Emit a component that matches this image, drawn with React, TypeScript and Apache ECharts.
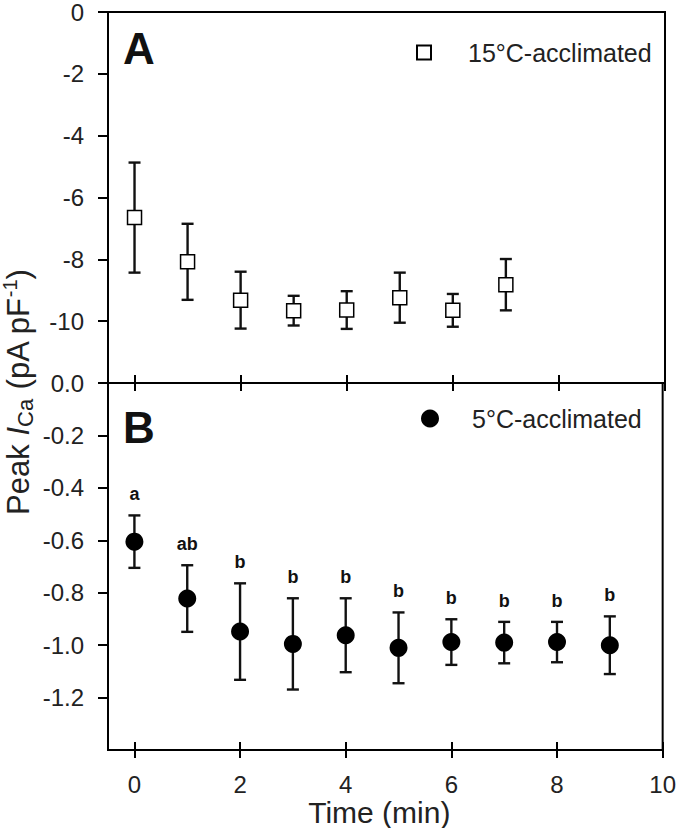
import React, { useEffect, useRef } from 'react';
import * as echarts from 'echarts';

const FONT = '"Liberation Sans", Arial, sans-serif';
const INK = '#111';

// Panel A: 15°C-acclimated
const timeA = [0, 1, 2, 3, 4, 5, 6, 7];
const meanA = [-6.65, -8.08, -9.32, -9.66, -9.64, -9.24, -9.65, -8.82];
const errA = [1.78, 1.23, 0.92, 0.48, 0.61, 0.81, 0.53, 0.83];

// Panel B: 5°C-acclimated
const timeB = [0, 1, 2, 3, 4, 5, 6, 7, 8, 9];
const meanB = [-0.605, -0.822, -0.948, -0.995, -0.962, -1.01, -0.988, -0.99, -0.988, -1.0];
const errB = [0.1, 0.127, 0.184, 0.174, 0.141, 0.135, 0.087, 0.079, 0.077, 0.11];
const lettersB = ['a', 'ab', 'b', 'b', 'b', 'b', 'b', 'b', 'b', 'b'];

const xTicks = [0, 2, 4, 6, 8, 10];
const yTicksA = [0, -2, -4, -6, -8, -10];
const yTicksB = [0, -0.2, -0.4, -0.6, -0.8, -1.0, -1.2];

export default function App() {
  const ref = useRef<HTMLDivElement>(null);
  useEffect(() => {
    const chart = echarts.init(ref.current!, null, { renderer: 'svg' });

    const errRender = (letters: string[] | null) => (params: any, api: any) => {
      const x = api.value(0);
      const lo = api.value(1);
      const hi = api.value(2);
      const pLo = api.coord([x, lo]);
      const pHi = api.coord([x, hi]);
      const cap = 6;
      const ls = { stroke: INK, lineWidth: 2.4 };
      const children: any[] = [
        { type: 'line', shape: { x1: pLo[0], y1: pLo[1], x2: pHi[0], y2: pHi[1] }, style: ls },
        { type: 'line', shape: { x1: pLo[0] - cap, y1: pLo[1], x2: pLo[0] + cap, y2: pLo[1] }, style: ls },
        { type: 'line', shape: { x1: pHi[0] - cap, y1: pHi[1], x2: pHi[0] + cap, y2: pHi[1] }, style: ls },
      ];
      if (letters) {
        children.push({
          type: 'text',
          x: pHi[0],
          y: pHi[1] - 21,
          style: {
            text: letters[params.dataIndex],
            align: 'center',
            verticalAlign: 'middle',
            fontSize: 18,
            fontWeight: 'bold',
            fontFamily: FONT,
            fill: INK,
          },
        });
      }
      return { type: 'group', children };
    };

    const tickStyle = { color: '#000', width: 2 };
    const lineStyle = { color: '#000', width: 2 };
    const labelStyle = { fontSize: 24, fontFamily: FONT, color: '#222' };

    const option: any = {
      animation: false,
      backgroundColor: '#fff',
      grid: [
        { left: 108, top: 11, right: 14, height: 372, show: true, borderColor: '#000', borderWidth: 2, backgroundColor: 'transparent' },
        { left: 108, top: 383, right: 14, height: 371, show: true, borderColor: '#000', borderWidth: 2, backgroundColor: 'transparent' },
      ],
      xAxis: [
        {
          type: 'value', gridIndex: 0, position: 'bottom', min: -0.5, max: 10,
          axisLine: { show: true, onZero: false, lineStyle }, splitLine: { show: false },
          axisTick: { show: true, inside: true, length: 8, customValues: xTicks, lineStyle: tickStyle },
          axisLabel: { show: false },
        },
        {
          type: 'value', gridIndex: 0, position: 'bottom', min: -0.5, max: 10,
          axisLine: { show: false, onZero: false }, splitLine: { show: false },
          axisTick: { show: true, inside: false, length: 8, customValues: xTicks, lineStyle: tickStyle },
          axisLabel: { show: false },
        },
        {
          type: 'value', gridIndex: 1, position: 'bottom', min: -0.5, max: 10,
          axisLine: { show: true, onZero: false, lineStyle }, splitLine: { show: false },
          axisTick: { show: true, inside: true, length: 8, customValues: xTicks, lineStyle: tickStyle },
          axisLabel: { show: true, customValues: xTicks, margin: 22, ...labelStyle },
          name: 'Time (min)', nameLocation: 'middle', nameGap: 37,
          nameTextStyle: { fontSize: 30, fontFamily: FONT, color: '#222', padding: [0, 12, 0, 0] },
        },
        {
          type: 'value', gridIndex: 1, position: 'bottom', min: -0.5, max: 10,
          axisLine: { show: false, onZero: false }, splitLine: { show: false },
          axisTick: { show: true, inside: false, length: 8, customValues: xTicks, lineStyle: tickStyle },
          axisLabel: { show: false },
        },
      ],
      yAxis: [
        {
          type: 'value', gridIndex: 0, position: 'left', min: -12, max: 0, interval: 2,
          axisLine: { show: true, onZero: false, lineStyle }, splitLine: { show: false },
          axisTick: { show: true, inside: false, length: 10, customValues: yTicksA, lineStyle: tickStyle },
          axisLabel: { show: true, customValues: yTicksA, margin: 24, ...labelStyle, formatter: (v: number) => String(v) },
        },
        {
          type: 'value', gridIndex: 1, position: 'left', min: -1.4, max: 0, interval: 0.2,
          axisLine: { show: true, onZero: false, lineStyle }, splitLine: { show: false },
          axisTick: { show: true, inside: false, length: 10, customValues: yTicksB, lineStyle: tickStyle },
          axisLabel: { show: true, customValues: yTicksB, margin: 24, ...labelStyle, formatter: (v: number) => v.toFixed(1) },
        },
      ],
      legend: [
        {
          data: ['15°C-acclimated'], left: 416, top: 40, padding: 0, itemWidth: 14, itemHeight: 14,
          selectedMode: false,
          textStyle: { fontSize: 25, fontFamily: FONT, color: '#222', padding: [0, 0, 0, 32] },
        },
        {
          data: ['5°C-acclimated'], left: 421, top: 406, padding: 0, itemWidth: 18, itemHeight: 18,
          selectedMode: false,
          textStyle: { fontSize: 25, fontFamily: FONT, color: '#222', padding: [0, 0, 0, 28] },
        },
      ],
      graphic: [
        { type: 'text', x: 123, y: 48, style: { text: 'A', fontSize: 44, fontWeight: 'bold', fontFamily: FONT, fill: INK, align: 'left', verticalAlign: 'middle' } },
        { type: 'text', x: 123, y: 427, style: { text: 'B', fontSize: 44, fontWeight: 'bold', fontFamily: FONT, fill: INK, align: 'left', verticalAlign: 'middle' } },
        {
          type: 'text', x: 18, y: 392, rotation: Math.PI / 2,
          style: {
            text: 'Peak {i|I}{sub|Ca} (pA pF{sup|-1})',
            fontSize: 31, fontFamily: FONT, fill: '#222', align: 'center', verticalAlign: 'middle', lineHeight: 36,
            rich: {
              i: { fontSize: 31, fontStyle: 'italic', fontFamily: FONT, fill: '#222', lineHeight: 36 },
              sub: { fontSize: 22, fontFamily: FONT, fill: '#222', verticalAlign: 'bottom', lineHeight: 16 },
              sup: { fontSize: 20, fontFamily: FONT, fill: '#222', verticalAlign: 'top', lineHeight: 20 },
            },
          },
        },
      ],
      series: [
        {
          type: 'custom', name: 'errA', xAxisIndex: 0, yAxisIndex: 0, z: 2,
          renderItem: errRender(null),
          data: timeA.map((t, i) => [t, meanA[i] - errA[i], meanA[i] + errA[i]]),
        },
        {
          type: 'scatter', name: '15°C-acclimated', xAxisIndex: 0, yAxisIndex: 0, z: 3,
          symbol: 'rect', symbolSize: 14,
          itemStyle: { color: '#fff', borderColor: '#000', borderWidth: 1.5, opacity: 1 },
          data: timeA.map((t, i) => [t, meanA[i]]),
        },
        {
          type: 'custom', name: 'errB', xAxisIndex: 2, yAxisIndex: 1, z: 2,
          renderItem: errRender(lettersB),
          data: timeB.map((t, i) => [t, meanB[i] - errB[i], meanB[i] + errB[i]]),
        },
        {
          type: 'scatter', name: '5°C-acclimated', xAxisIndex: 2, yAxisIndex: 1, z: 3,
          symbol: 'circle', symbolSize: 18,
          itemStyle: { color: '#000', opacity: 1 },
          data: timeB.map((t, i) => [t, meanB[i]]),
        },
      ],
    };
    chart.setOption(option);
    return () => chart.dispose();
  }, []);
  return (
    <div
      ref={ref}
      style={{ position: 'fixed', left: 0, top: 0, width: 679, height: 828, background: '#fff' }}
    />
  );
}
